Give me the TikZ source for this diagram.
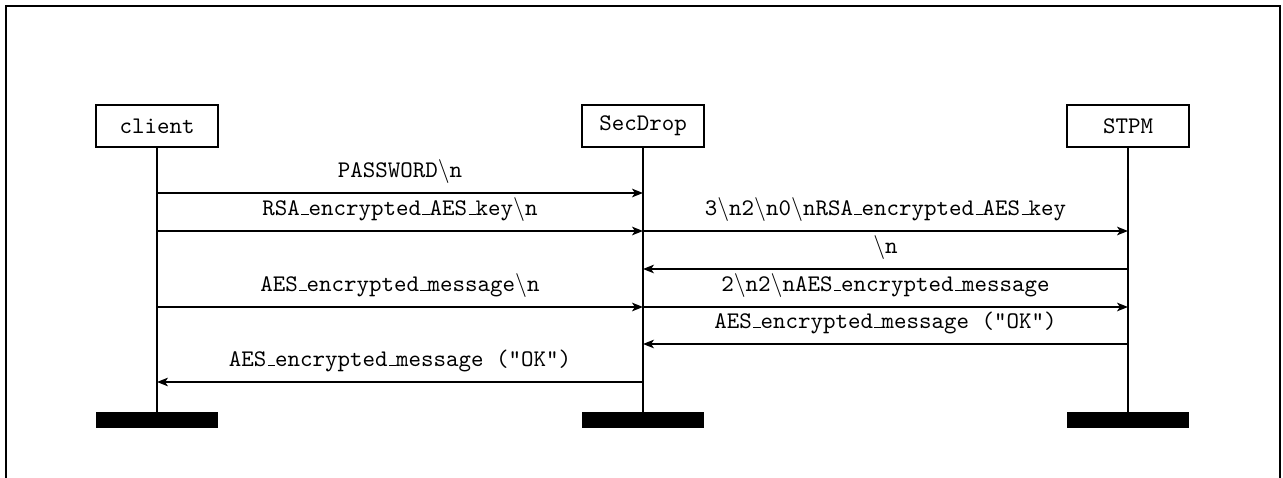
\documentclass[tikz,border=0pt]{standalone}
\usepackage{amssymb,amsmath}
\usetikzlibrary{positioning, arrows, arrows.meta}

\newcommand{\usc}{\leavevmode\kern.06em\vbox{\hrule width.3em}}
\newcommand{\bsn}{$\backslash$n}

\begin{document}
\begin{tikzpicture}[x=0.42pt,y=0.42pt]
  \tikzset{InstStyle/.style = {
    shape         = rectangle,
    draw          = black,
    fill          = white,
    line width    = 0.6pt,
    text          = black,
    font          = \ttfamily,
    inner sep     = 0pt,
    outer sep     = 0pt,
    minimum width = 51.2pt,
    minimum height= 17.6pt
    }
  }
  \tikzset{FootStyle/.style = {
    shape         = rectangle,
    fill          = black,
    inner sep     = 0pt,
    outer sep     = 0pt,
    minimum width = 51.2pt,
    minimum height= 6.7pt
    }
  }
  \tikzset{LifeStyle/.style = {
    draw          = black,
    line width    = 0.83pt
    }
  }
  \tikzset{MsgStyle/.style = {
    draw          = black,
    line width    = 0.6pt,
    -{Stealth[length=4.6pt,width=3.6pt,inset=1.2pt]}
    }
  }
  \tikzset{MsgLabelStyle/.style = {
    font          = \ttfamily,
    anchor        = base,
    inner sep     = 0pt,
    yshift        = 6.7pt,
    pos=0.5
    }
  }

	\useasboundingbox (0,0) rectangle (1283,477);
	\draw[line width=0.83pt] (6,-10) -- (6,471) -- (1280,471) -- (1280,-10);

	\node[InstStyle](client) at (157,351) {client};
	\node[InstStyle](secdrop) at (643,351) {SecDrop};
	\node[InstStyle](stpm) at (1128,351) {STPM};
	\node[FootStyle](clientend) at (157,57) {};
	\node[FootStyle](secdropend) at (643,57) {};
	\node[FootStyle](stpmend) at (1128,57) {};
	\draw[LifeStyle](client) to (clientend);
	\draw[LifeStyle](secdrop) to (secdropend);
	\draw[LifeStyle](stpm) to (stpmend);

	\coordinate (m1) at (0,284);
	\coordinate (m2) at (0,246);
	\coordinate (m3) at (0,208);
	\coordinate (m4) at (0,170);
	\coordinate (m5) at (0,133);
	\coordinate (m6) at (0,95);

	\draw[MsgStyle](client |- m1) to node[MsgLabelStyle]{PASSWORD\bsn} (secdrop |- m1);
	\draw[MsgStyle](client |- m2) to node[MsgLabelStyle]{RSA\usc encrypted\usc AES\usc key\bsn} (secdrop |- m2);
	\draw[MsgStyle](secdrop |- m2) to node[MsgLabelStyle]{3\bsn 2\bsn 0\bsn RSA\usc encrypted\usc AES\usc key} (stpm |- m2);
	\draw[MsgStyle](stpm |- m3) to node[MsgLabelStyle]{\bsn} (secdrop |- m3);
	\draw[MsgStyle](client |- m4) to node[MsgLabelStyle]{AES\usc encrypted\usc message\bsn} (secdrop |- m4);
	\draw[MsgStyle](secdrop |- m4) to node[MsgLabelStyle]{2\bsn 2\bsn AES\usc encrypted\usc message} (stpm |- m4);
	\draw[MsgStyle](stpm |- m5) to node[MsgLabelStyle]{AES\usc encrypted\usc message ("OK")} (secdrop |- m5);
	\draw[MsgStyle](secdrop |- m6) to node[MsgLabelStyle]{AES\usc encrypted\usc message ("OK")} (client |- m6);

  \end{tikzpicture}
\end{document}
